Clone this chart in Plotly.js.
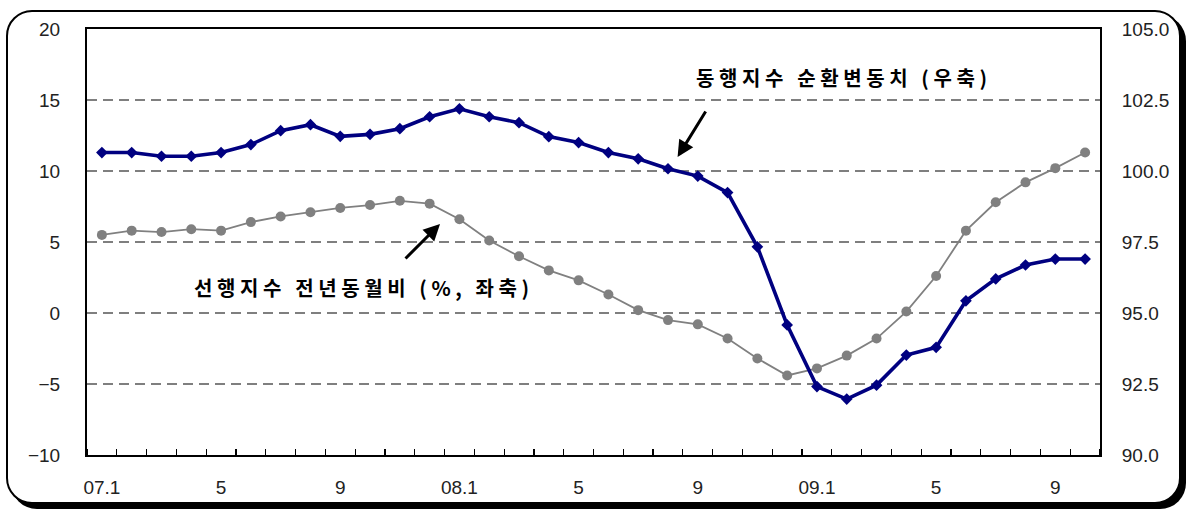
<!DOCTYPE html>
<html>
<head>
<meta charset="utf-8">
<script src="https://cdn.plot.ly/plotly-3.0.1.min.js"></script>
<style>
  html, body { margin: 0; padding: 0; background: #fff; }
  #frame {
    position: absolute; left: 6px; top: 10px;
    width: 1171px; height: 490px;
    border: 2px solid #000; border-radius: 26px;
    box-shadow: 5px 5px 0 0 #000;
    background: #fff;
  }
  #chart { position: absolute; left: 0; top: 0; width: 1188px; height: 511px; }
  .annotation-text { letter-spacing: 4.6px; }
</style>
</head>
<body>
<div id="frame"></div>
<div id="chart"></div>
<script>
// Months 2007.1 – 2009.10
const months = [
  '07.1','07.2','07.3','07.4','07.5','07.6','07.7','07.8','07.9','07.10','07.11','07.12',
  '08.1','08.2','08.3','08.4','08.5','08.6','08.7','08.8','08.9','08.10','08.11','08.12',
  '09.1','09.2','09.3','09.4','09.5','09.6','09.7','09.8','09.9','09.10'
];

// 선행지수 전년동월비 (%, 좌축)
const leadingYoY = [
  5.5, 5.8, 5.7, 5.9, 5.8, 6.4, 6.8, 7.1, 7.4, 7.6, 7.9, 7.7,
  6.6, 5.1, 4.0, 3.0, 2.3, 1.3, 0.2, -0.5, -0.8, -1.8, -3.2, -4.4,
  -3.9, -3.0, -1.8, 0.1, 2.6, 5.8, 7.8, 9.2, 10.2, 11.3
];

// 동행지수 순환변동치 (우축)
const coincidentCycle = [
  100.65, 100.65, 100.52, 100.52, 100.65, 100.93, 101.42, 101.63, 101.22, 101.29, 101.49, 101.91,
  102.19, 101.91, 101.70, 101.21, 101.00, 100.65, 100.43, 100.08, 99.82, 99.24, 97.33, 94.58,
  92.41, 91.97, 92.46, 93.52, 93.79, 95.43, 96.20, 96.69, 96.90, 96.90
];

// Labelled x ticks
const xTickMonths = ['07.1','07.5','07.9','08.1','08.5','08.9','09.1','09.5','09.9'];
const xTickText = ['07.1','5','9','08.1','5','9','09.1','5','9'];

const leftTicks = [-10, -5, 0, 5, 10, 15, 20];
const rightTicks = [90, 92.5, 95, 97.5, 100, 102.5, 105];

// month positions on the (linear) x axis
const xIdx = months.map((m, i) => i);
const xTickVals = xTickMonths.map(m => months.indexOf(m));

const tickFont = {family: '"Liberation Sans", Arial, sans-serif', size: 19, color: '#222'};
const korFont = {family: '"Noto Sans CJK KR", sans-serif', size: 20, color: '#000', weight: 'bold'};

const traces = [
  {
    x: xIdx, y: leadingYoY, type: 'scatter', mode: 'lines+markers',
    name: '선행지수 전년동월비 (%, 좌축)', xaxis: 'x', yaxis: 'y',
    text: months, hoverinfo: 'text+y',
    line: {color: '#808080', width: 1.8},
    marker: {symbol: 'circle', size: 10, color: '#808080'}
  },
  {
    x: xIdx, y: coincidentCycle, type: 'scatter', mode: 'lines+markers',
    name: '동행지수 순환변동치 (우축)', xaxis: 'x', yaxis: 'y2',
    text: months, hoverinfo: 'text+y',
    line: {color: '#000080', width: 3.6},
    marker: {symbol: 'diamond', size: 9, color: '#000080'}
  }
];

const layout = {
  width: 1188, height: 511,
  margin: {l: 87, r: 88, t: 29, b: 56},
  paper_bgcolor: 'rgba(0,0,0,0)',
  plot_bgcolor: '#fff',
  showlegend: false,
  xaxis: {
    type: 'linear', range: [-0.5, months.length - 0.5],
    tickmode: 'array', tickvals: xTickVals, ticktext: xTickText,
    ticks: '', tickfont: tickFont, ticklabelstandoff: 14,
    minor: {tickmode: 'linear', tick0: 0.5, dtick: 1, ticks: 'inside', ticklen: 6,
            tickwidth: 1.2, tickcolor: '#000', showgrid: false},
    showgrid: false, zeroline: false,
    showline: true, linecolor: '#000', linewidth: 2, mirror: true
  },
  yaxis: {
    range: [-10, 20], tickmode: 'array', tickvals: leftTicks,
    ticks: '', tickfont: tickFont, ticklabelstandoff: 21,
    showgrid: true, gridcolor: '#7f7f7f', gridwidth: 1.5, griddash: '10px,6px',
    zeroline: false,
    showline: true, linecolor: '#000', linewidth: 2
  },
  yaxis2: {
    overlaying: 'y', side: 'right', anchor: 'x',
    range: [90, 105], tickmode: 'array', tickvals: rightTicks, tickformat: '.1f',
    ticks: '', tickfont: tickFont, ticklabelstandoff: 16,
    showgrid: false, zeroline: false,
    showline: true, linecolor: '#000', linewidth: 2
  },
  annotations: [
    {
      xref: 'paper', yref: 'paper', x: 0.747, y: 0.887,
      text: '동행지수 순환변동치 (우축)', showarrow: false,
      font: korFont, xanchor: 'center', yanchor: 'middle'
    },
    {
      xref: 'paper', yref: 'paper', x: 0.2734, y: 0.394,
      text: '선행지수 전년동월비 (%, 좌축)', showarrow: false,
      font: korFont, xanchor: 'center', yanchor: 'middle'
    },
    {
      xref: 'paper', yref: 'paper', x: 0.583, y: 0.6995, text: '',
      showarrow: true, arrowhead: 2, arrowsize: 1.1, arrowwidth: 3, arrowcolor: '#000',
      ax: 29, ay: -47
    },
    {
      xref: 'paper', yref: 'paper', x: 0.3485, y: 0.5423, text: '',
      showarrow: true, arrowhead: 2, arrowsize: 1.1, arrowwidth: 3, arrowcolor: '#000',
      ax: -36, ay: 36
    }
  ]
};

Plotly.newPlot('chart', traces, layout, {displayModeBar: false, staticPlot: true});
</script>
</body>
</html>
